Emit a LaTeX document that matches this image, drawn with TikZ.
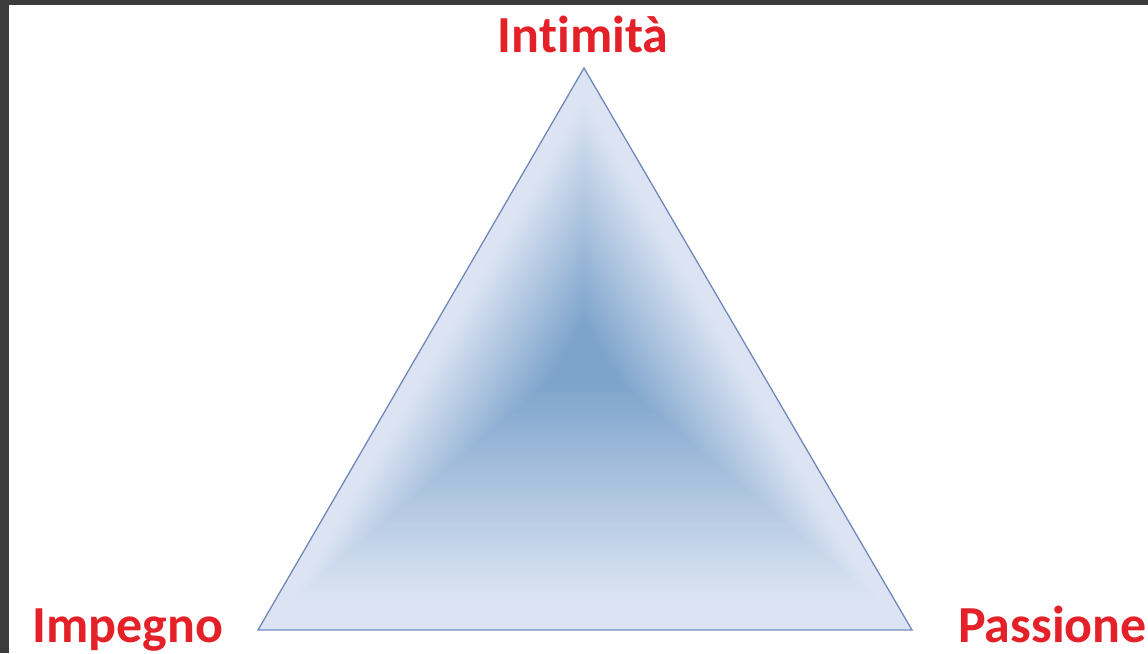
\documentclass[tikz,border=0pt]{standalone}
\usepackage{fontspec}
\setmainfont{Carlito}[Ligatures=NoCommon]
\usepackage{tikz}
\usetikzlibrary{calc}
\definecolor{framegray}{RGB}{60,60,60}
\definecolor{labelred}{RGB}{228,32,40}
\definecolor{edgeblue}{RGB}{112,136,186}
\definecolor{paleblue}{RGB}{220,228,243}
\definecolor{deepblue}{RGB}{126,164,204}

\begin{document}
\begin{tikzpicture}[
    x=1pt, y=1pt,
    lbl/.style={text=labelred, inner sep=0pt, font=\bfseries\fontsize{52}{60}\selectfont}
]
\useasboundingbox (0,0) rectangle (1148,653);
% --- frame ---
\fill[framegray] (0,0) rectangle (1148,653);
\fill[white] (9,0) rectangle (1148,648);

% --- triangle corners ---
\coordinate (apex) at (584,585);
\coordinate (lft) at (258,23);
\coordinate (rgt) at (912,23);
\coordinate (ctr) at (584,300);

% shaded body, shrinking towards the centre
\foreach \i in {0,...,99}{
    \pgfmathsetmacro{\s}{1-\i/100}
    \pgfmathsetmacro{\t}{max(0,min(1,(0.9-\s)/0.78))}
    \pgfmathtruncatemacro{\p}{100*\t}
    \fill[deepblue!\p!paleblue] ($(ctr)!\s!(apex)$) -- ($(ctr)!\s!(lft)$) -- ($(ctr)!\s!(rgt)$) -- cycle;
}
\draw[edgeblue, line width=1.3pt, line join=miter] (apex) -- (lft) -- (rgt) -- cycle;

% --- labels ---
\node[lbl, anchor=base] (intim) at (583,600.5) {Intimità};
\node[lbl, anchor=base west] (imp) at (32,11) {Impegno};
\node[lbl, anchor=base west] (pass) at (958,11) {Passione};
\end{tikzpicture}
\end{document}
